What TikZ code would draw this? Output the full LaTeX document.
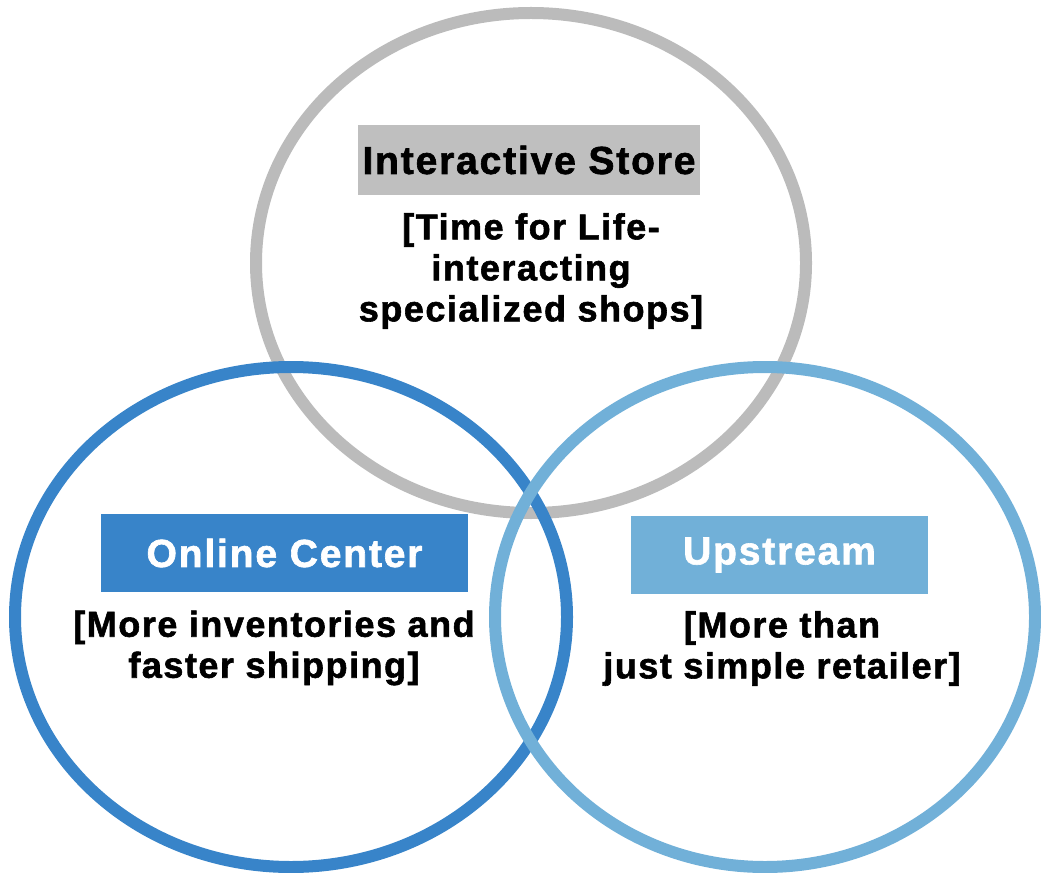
\documentclass[tikz,border=0pt]{standalone}
\usepackage{fontspec}
\newfontfamily\hdfont[LetterSpace=4.6,FakeBold=1.6]{Liberation Sans}
\newfontfamily\subfont[LetterSpace=4.2,FakeBold=1.6]{Liberation Sans}
\definecolor{cgray}{HTML}{BBBBBB}
\definecolor{cgraybox}{HTML}{BFBFBF}
\definecolor{cblue}{HTML}{3884C9}
\definecolor{clight}{HTML}{71B0D8}
\tikzset{
  ring/.style={line width=9pt},
  titlebox/.style={inner sep=0pt, font=\hdfont\bfseries\fontsize{29.3}{30}\selectfont},
  subtext/.style={inner sep=0pt, align=center, text=black, font=\subfont\bfseries\fontsize{27}{30.75}\selectfont}
}
\begin{document}
\begin{tikzpicture}[x=0.75pt,y=-0.75pt]
\useasboundingbox (0,0) rectangle (1041,873);
\clip (0,0) rectangle (1041,873);
\draw[ring, cgray]  (531,263) ellipse [x radius=206.25pt, y radius=187.5pt];
\draw[ring, cblue]  (291,617) ellipse [x radius=207pt, y radius=187.5pt];
\draw[ring, clight] (765,617) ellipse [x radius=202.5pt, y radius=187.5pt];

\node[titlebox, fill=cgraybox, text=black, minimum width=256.5pt, minimum height=52.5pt] (ist) at (529,160) {Interactive Store};
\node[subtext] (ists) at (531,271) {[Time for Life-\\interacting\\specialized shops]};

\node[titlebox, fill=cblue, text=white, minimum width=275.25pt, minimum height=58.5pt] (onl) at (284.5,553) {Online Center};
\node[subtext] (onls) at (274,648) {[More inventories and\\faster shipping]};

\node[titlebox, fill=clight, text=white, minimum width=222.75pt, minimum height=58.5pt] (ups) at (779.5,555) {Upstream};
\node[subtext] (upss) at (782,648.5) {[More than\\just simple retailer]};
\end{tikzpicture}
\end{document}
